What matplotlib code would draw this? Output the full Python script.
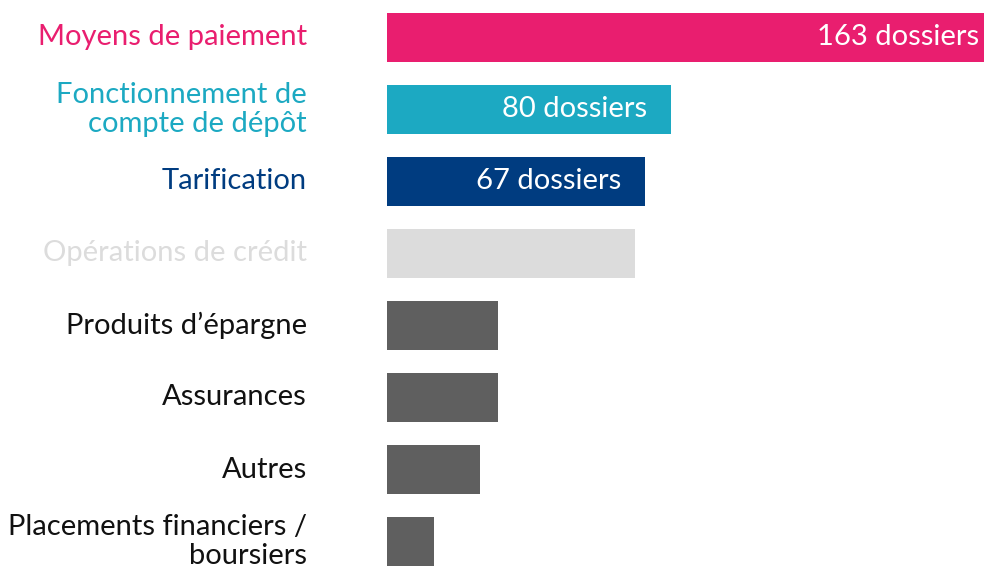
import matplotlib
matplotlib.use("Agg")
import matplotlib.pyplot as plt

categories = ["Moyens de paiement", "Fonctionnement de\ncompte de dépôt", "Tarification",
              "Opérations de crédit", "Produits d’épargne", "Assurances", "Autres",
              "Placements financiers /\nboursiers"]
values = [168, 77.5, 70.5, 67.8, 30.3, 30.3, 25.4, 12.8]
value_labels = ["163 dossiers", "80 dossiers", "67 dossiers", "", "", "", "", ""]
bar_colors = ["#E91E6F", "#1CA9C2", "#003C80", "#DCDCDC", "#5F5F5F", "#5F5F5F", "#5F5F5F", "#5F5F5F"]
text_colors = ["#E91E6F", "#1CA9C2", "#003C80", "#DCDCDC", "#111111", "#111111", "#111111", "#111111"]

plt.rcParams['font.family'] = ['Lato', 'DejaVu Sans']

fig = plt.figure(figsize=(9.84, 5.66), dpi=100)
ax = fig.add_axes([387/984, 0, 1 - 387/984, 1])
ypos = list(range(len(categories)))
ax.barh(ypos, values, height=0.67, color=bar_colors)
ax.set_xlim(0, 163)
ax.set_ylim(7.34, -0.52)
ax.axis("off")

for i, (cat, tc) in enumerate(zip(categories, text_colors)):
    ax.annotate(cat, xy=(0, i), xytext=(-57.6, 0), textcoords="offset points",
                ha="right", va="center", fontsize=21, color=tc, linespacing=1.12,
                annotation_clip=False)

for i, (v, lab) in enumerate(zip(values, value_labels)):
    if lab:
        ax.annotate(lab, xy=(v, i), xytext=(-17, 0), textcoords="offset points",
                    ha="right", va="center", fontsize=21, color="white",
                    annotation_clip=False)

fig.savefig("out.png", dpi=100)
